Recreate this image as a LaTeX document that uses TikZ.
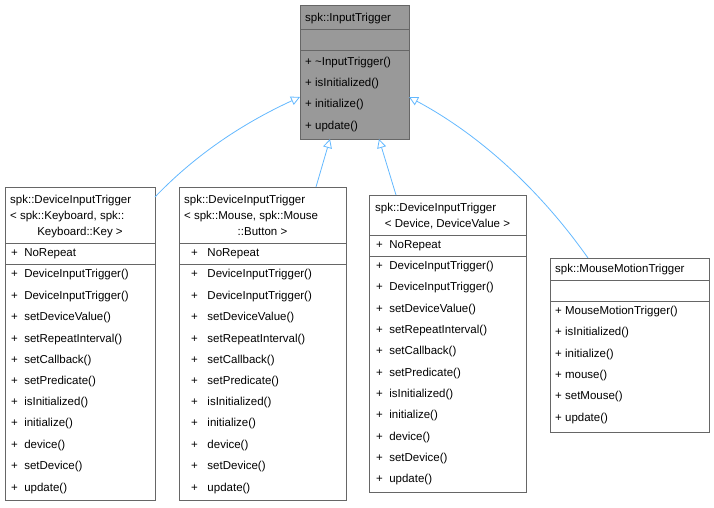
\documentclass[tikz,border=0pt]{standalone}
\usepackage{fontspec}
\setmainfont{Liberation Sans}
\usetikzlibrary{arrows.meta}
\definecolor{edge}{HTML}{63B8FF}
\definecolor{bord}{HTML}{666666}
\begin{document}
\begin{tikzpicture}[x=1pt,y=-1pt,
  box/.style={draw=bord,line width=0.8pt},
  t/.style={anchor=west,inner sep=0pt,text height=8.5pt,text depth=2.5pt,font=\fontsize{11.5}{13}\selectfont},
  c/.style={anchor=center,inner sep=0pt,text height=8.5pt,text depth=2.5pt,font=\fontsize{11.5}{13}\selectfont},
  inh/.style={draw=edge,line width=0.8pt,-{Triangle[open,length=9pt,width=9pt]}}]
\useasboundingbox (0,0) rectangle (714,507);
% top
\path[box,fill=black!40] (300,5) rectangle (409,139);
\node (top) [inner sep=0pt,minimum width=109pt,minimum height=134pt] at (354.5,72) {};
\draw[bord,line width=0.8pt] (300,29)--(409,29) (300,50)--(409,50);
\node[t] at (305,18) {spk::InputTrigger};
\foreach \y/\s in {62/\textasciitilde InputTrigger(),83/isInitialized(),104/initialize(),126/update()}
  \node[t] at (305,\y) {+ \s};
% box1
\path[box,fill=white] (5,187) rectangle (155,500);
\node (b1) [inner sep=0pt,minimum width=150pt,minimum height=313pt] at (80,343.5) {};
\node[t] at (10,200) {spk::DeviceInputTrigger};
\node[t] at (10,216) {< spk::Keyboard, spk::};
\node[c] at (80,232) {Keyboard::Key >};
\draw[bord,line width=0.8pt] (5,243)--(155,243) (5,264)--(155,264);
\node[t] at (11,253) {+ \ NoRepeat};
\foreach \y/\s in {274/DeviceInputTrigger(),296/DeviceInputTrigger(),317/setDeviceValue(),339/setRepeatInterval(),360/setCallback(),381/setPredicate(),402/isInitialized(),423/initialize(),445/device(),466/setDevice(),488/update()}
  \node[t] at (11,\y) {+ \ \s};
% box2
\path[box,fill=white] (179,187) rectangle (346,500);
\node (b2) [inner sep=0pt,minimum width=167pt,minimum height=313pt] at (262.5,343.5) {};
\node[t] at (184,200) {spk::DeviceInputTrigger};
\node[t] at (184,216) {< spk::Mouse, spk::Mouse};
\node[c] at (262.5,232) {::Button >};
\draw[bord,line width=0.8pt] (179,243)--(346,243) (179,264)--(346,264);
\node[t] at (191,253) {+ \ \ NoRepeat};
\foreach \y/\s in {274/DeviceInputTrigger(),296/DeviceInputTrigger(),317/setDeviceValue(),339/setRepeatInterval(),360/setCallback(),381/setPredicate(),402/isInitialized(),423/initialize(),445/device(),466/setDevice(),488/update()}
  \node[t] at (191,\y) {+ \ \ \s};
% box3
\path[box,fill=white] (369,195) rectangle (526,492);
\node (b3) [inner sep=0pt,minimum width=157pt,minimum height=297pt] at (447.5,343.5) {};
\node[t] at (375,208) {spk::DeviceInputTrigger};
\node[c] at (447.5,224) {< Device, DeviceValue >};
\draw[bord,line width=0.8pt] (369,235)--(526,235) (369,256)--(526,256);
\node[t] at (376,245) {+ \ NoRepeat};
\foreach \y/\s in {266/DeviceInputTrigger(),287/DeviceInputTrigger(),309/setDeviceValue(),330/setRepeatInterval(),351/setCallback(),373/setPredicate(),394/isInitialized(),415/initialize(),437/device(),458/setDevice(),479/update()}
  \node[t] at (376,\y) {+ \ \s};
% box4
\path[box,fill=white] (550,258) rectangle (709,432);
\node (b4) [inner sep=0pt,minimum width=159pt,minimum height=174pt] at (629.5,345) {};
\node[t] at (555,269) {spk::MouseMotionTrigger};
\draw[bord,line width=0.8pt] (550,280)--(709,280) (550,301)--(709,301);
\foreach \y/\s in {311/MouseMotionTrigger(),332/isInitialized(),354/initialize(),375/mouse(),396/setMouse(),418/update()}
  \node[t] at (555,\y) {+ \s};
% edges
\coordinate (s1) at (155,197);
\coordinate (e1) at (300,97);
\draw[inh] (s1) .. controls (200,150) and (250,120) .. (e1);
\coordinate (s2) at (316,187);
\coordinate (e2) at (330,139);
\draw[inh] (s2) -- (e2);
\coordinate (s3) at (396,195);
\coordinate (e3) at (379,139);
\draw[inh] (s3) -- (e3);
\coordinate (s4) at (588,258);
\coordinate (e4) at (409,97);
\draw[inh] (s4) .. controls (540,190) and (480,135) .. (e4);
\end{tikzpicture}
\end{document}
